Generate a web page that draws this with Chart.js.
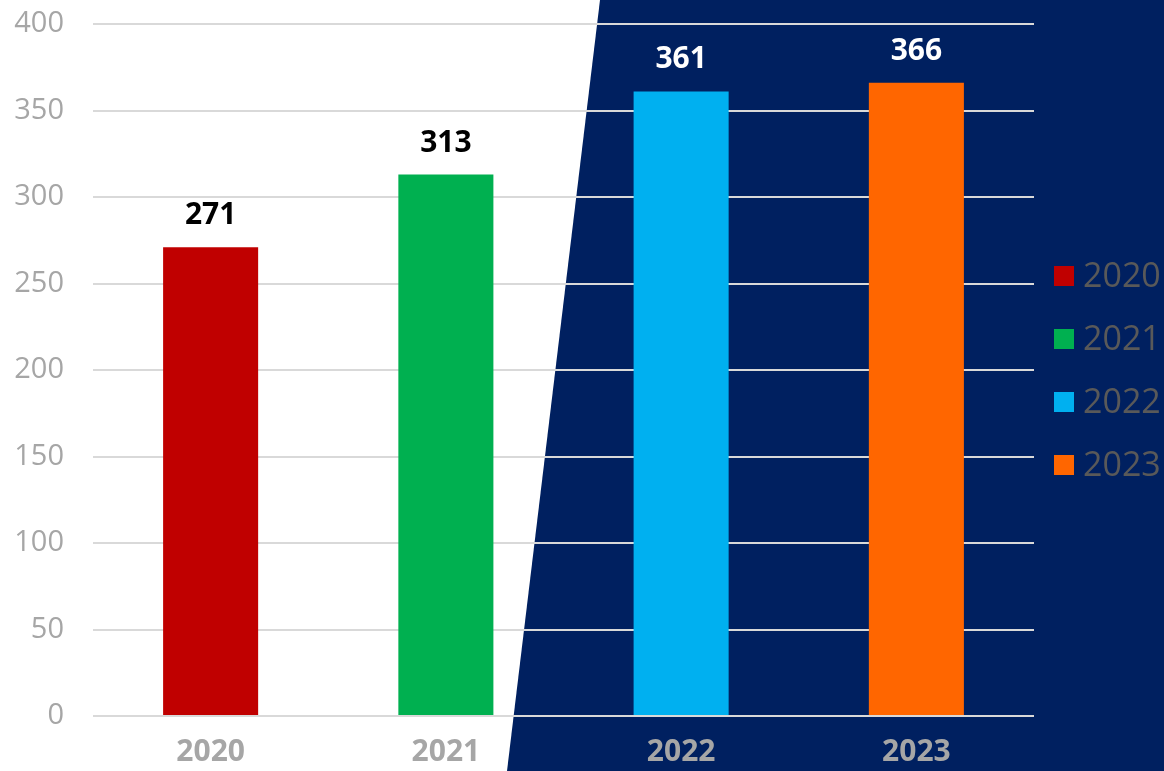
<!DOCTYPE html>
<html>
<head>
<meta charset="utf-8">
<script src="https://cdn.jsdelivr.net/npm/chart.js@4"></script>
<style>
  html, body { margin: 0; padding: 0; background: #fff; }
  #wrap { width: 1164px; height: 771px; }
</style>
</head>
<body>
<div id="wrap"><canvas id="chart" width="1164" height="771"></canvas></div>
<script>
const years = ['2020', '2021', '2022', '2023'];
const values = [271, 313, 361, 366];
const barColors = ['#c00000', '#00b050', '#00b0f0', '#ff6600'];
const valueLabelColors = ['#000000', '#000000', '#ffffff', '#ffffff'];
const yTicks = [0, 50, 100, 150, 200, 250, 300, 350, 400];

// dark slanted panel behind the right part of the chart
const backdrop = {
  id: 'backdrop',
  beforeDraw: (chart) => {
    const ctx = chart.ctx;
    const w = chart.width, h = chart.height;
    ctx.save();
    ctx.fillStyle = '#ffffff';
    ctx.fillRect(0, 0, w, h);
    ctx.fillStyle = '#002060';
    ctx.beginPath();
    ctx.moveTo(600, 0);
    ctx.lineTo(w, 0);
    ctx.lineTo(w, h);
    ctx.lineTo(507, h);
    ctx.closePath();
    ctx.fill();
    ctx.restore();
  }
};

const valueLabels = {
  id: 'valueLabels',
  afterDatasetsDraw: (chart) => {
    const ctx = chart.ctx;
    const meta = chart.getDatasetMeta(0);
    ctx.save();
    ctx.font = 'bold 30px "Open Sans"';
    ctx.textAlign = 'center';
    ctx.textBaseline = 'alphabetic';
    meta.data.forEach((bar, i) => {
      ctx.fillStyle = valueLabelColors[i];
      ctx.fillText(String(values[i]), bar.x, bar.y - 23);
    });
    ctx.restore();
  }
};

const sideLegend = {
  id: 'sideLegend',
  afterDraw: (chart) => {
    const ctx = chart.ctx;
    const x = chart.chartArea.right + 20;
    const firstY = 276;
    const step = 63;
    ctx.save();
    ctx.font = '34px "Open Sans"';
    ctx.textBaseline = 'middle';
    ctx.textAlign = 'left';
    years.forEach((y, i) => {
      const cy = firstY + i * step;
      ctx.fillStyle = barColors[i];
      ctx.fillRect(x, cy - 10, 20, 20);
      ctx.fillStyle = '#595959';
      ctx.fillText(y, x + 29, cy + 1);
    });
    ctx.restore();
  }
};

new Chart(document.getElementById('chart'), {
  type: 'bar',
  data: {
    labels: years,
    datasets: [{
      label: 'Wert',
      data: values,
      backgroundColor: barColors,
      borderWidth: 0,
      barPercentage: 0.404,
      categoryPercentage: 1
    }]
  },
  options: {
    responsive: false,
    animation: false,
    layout: { padding: { top: 24, right: 130, left: 0, bottom: 0 } },
    plugins: {
      legend: { display: false },
      tooltip: { enabled: false }
    },
    scales: {
      x: {
        grid: { display: false, drawTicks: false },
        border: { display: false },
        ticks: {
          color: '#a6a6a6',
          font: { family: 'Open Sans', size: 30, weight: 'bold' },
          padding: 18
        },
        afterFit: (scale) => { scale.height = 55; scale.paddingLeft = 0; scale.paddingRight = 0; }
      },
      y: {
        min: 0,
        max: 400,
        afterBuildTicks: (scale) => { scale.ticks = yTicks.map(v => ({ value: v })); },
        grid: { color: '#d9d9d9', lineWidth: 2, drawTicks: false },
        border: { display: false },
        ticks: {
          color: '#a6a6a6',
          font: { family: 'Open Sans', size: 29 },
          padding: 29
        },
        afterFit: (scale) => { scale.width = 93; scale.paddingTop = 0; scale.paddingBottom = 0; }
      }
    }
  },
  plugins: [backdrop, valueLabels, sideLegend]
});
</script>
</body>
</html>
